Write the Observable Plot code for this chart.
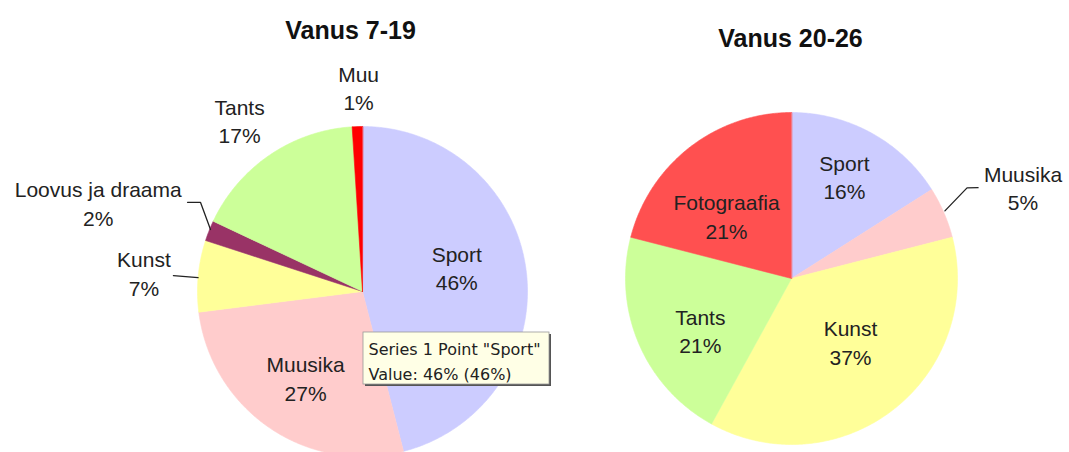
<!DOCTYPE html>
<html>
<head>
<meta charset="utf-8">
<script src="https://cdn.jsdelivr.net/npm/d3@7"></script>
<script src="https://cdn.jsdelivr.net/npm/@observablehq/plot@0.6"></script>
<style>
  html, body { margin: 0; padding: 0; background: #fff; }
  #chart svg { display: block; }
</style>
</head>
<body>
<div id="chart"></div>
<script>
// ---------------- DATA ----------------
const titles = ["Vanus 7-19", "Vanus 20-26"];
const categories719 = ["Sport", "Muusika", "Kunst", "Loovus ja draama", "Tants", "Muu"];
const values719 = [46, 27, 7, 2, 17, 1];
const categories2026 = ["Sport", "Muusika", "Kunst", "Tants", "Fotograafia"];
const values2026 = [16, 5, 37, 21, 21];
const tooltipSeries = "Series 1";
const tooltipCategory = "Sport";

// ---------------- STYLES ----------------
const colorDomain = ["Sport", "Muusika", "Kunst", "Loovus ja draama", "Tants", "Muu", "Fotograafia"];
const colorRange = ["#ccccff", "#ffcccc", "#ffff99", "#993366", "#ccff99", "#ff0000", "#ff5050"];
const labelFont = "'Liberation Sans', Arial, sans-serif";
const tipFont = "'DejaVu Sans', Verdana, sans-serif";

// ---------------- LAYOUT ----------------
const W = 1069, H = 452;
// label positions: [angle in degrees clockwise from 12 o'clock, distance as fraction of radius]
const layout = [
  {
    cx: 362, cy: 291, r: 165, titleX: 350, titleY: 30,
    labels: {
      "Sport": [75.5, 0.59], "Muusika": [213.5, 0.625], "Kunst": [275, 1.33],
      "Loovus ja draama": [288.6, 1.69], "Tants": [324.4, 1.28], "Muu": [358.9, 1.24]
    },
    leaders: {
      "Kunst": [[274.8, 1.0], [274.8, 1.15]],
      "Loovus ja draama": [[292.2, 0.995], [298.8, 1.12], [297.0, 1.19]]
    }
  },
  {
    cx: 791, cy: 278, r: 166, titleX: 790, titleY: 38,
    labels: {
      "Sport": [27.3, 0.695], "Muusika": [68.4, 1.5], "Kunst": [136.9, 0.52],
      "Tants": [240.7, 0.63], "Fotograafia": [314.1, 0.545]
    },
    leaders: {
      "Muusika": [[66.2, 1.01], [62.7, 1.19], [64.05, 1.25]]
    }
  }
];
// tooltip box relative to the first pie's centre
const tipLayout = {dx1: 1, dx2: 187, dy1: 41, dy2: 93, textDx: 6, textDy: 68.4, shadow: 2};

// ---------------- BUILD ----------------
const groups = [
  {title: titles[0], cats: categories719, vals: values719},
  {title: titles[1], cats: categories2026, vals: values2026}
];

const polys = [], labels = [], leaders = [], titleData = [];
let tipText = null;
groups.forEach((g, gi) => {
  const L = layout[gi];
  const total = d3.sum(g.vals);
  const arcs = d3.pie().sort(null)(g.vals);
  const pt = (ang, f) => ({x: L.cx + L.r * f * Math.sin(ang), y: L.cy - L.r * f * Math.cos(ang)});
  titleData.push({x: L.titleX, y: L.titleY, text: g.title});
  arcs.forEach((a, i) => {
    const id = gi + ":" + i;
    const key = g.cats[i];
    polys.push({...pt(0, 0), id, key});
    const n = Math.max(2, Math.ceil((a.endAngle - a.startAngle) / (Math.PI / 360)));
    for (let k = 0; k <= n; k++) {
      const ang = a.startAngle + (a.endAngle - a.startAngle) * k / n;
      polys.push({...pt(ang, 1), id, key});
    }
    const pct = Math.round(g.vals[i] / total * 100) + "%";
    const [deg, f] = L.labels[key];
    labels.push({...pt(deg * Math.PI / 180, f), text: key + "\n" + pct});
    if (L.leaders[key]) {
      L.leaders[key].forEach(([d, ff]) => leaders.push({...pt(d * Math.PI / 180, ff), id}));
    }
    if (gi === 0 && key === tooltipCategory) {
      tipText = `${tooltipSeries} Point "${key}"\nValue: ${pct} (${pct})`;
    }
  });
});

const L0 = layout[0];
const tipBox = [{x1: L0.cx + tipLayout.dx1, x2: L0.cx + tipLayout.dx2, y1: L0.cy + tipLayout.dy1, y2: L0.cy + tipLayout.dy2}];
const tipShadow = tipBox.map(b => ({x1: b.x1 + tipLayout.shadow, x2: b.x2 + tipLayout.shadow, y1: b.y1 + tipLayout.shadow, y2: b.y2 + tipLayout.shadow}));
const tipLabel = [{x: L0.cx + tipLayout.textDx, y: L0.cy + tipLayout.textDy, text: tipText}];

const chart = Plot.plot({
  width: W,
  height: H,
  margin: 0,
  x: {domain: [0, W], range: [0, W], axis: null},
  y: {domain: [0, H], range: [0, H], axis: null},
  color: {domain: colorDomain, range: colorRange},
  style: {background: "#fff", overflow: "hidden"},
  marks: [
    Plot.line(polys, {x: "x", y: "y", z: "id", fill: "key", stroke: "key", strokeWidth: 0.6, curve: "linear-closed"}),
    Plot.line(leaders, {x: "x", y: "y", z: "id", stroke: "#222", strokeWidth: 1.3, curve: "linear"}),
    Plot.text(labels, {x: "x", y: "y", text: "text", fontSize: 21, lineHeight: 1.357, fontFamily: labelFont, fill: "#222", lineAnchor: "middle"}),
    Plot.text(titleData, {x: "x", y: "y", text: "text", fontSize: 25, fontWeight: "bold", fontFamily: labelFont, fill: "#111"}),
    Plot.rect(tipShadow, {x1: "x1", x2: "x2", y1: "y1", y2: "y2", fill: "#555"}),
    Plot.rect(tipBox, {x1: "x1", x2: "x2", y1: "y1", y2: "y2", fill: "#ffffe6", stroke: "#999", strokeWidth: 0.8}),
    Plot.text(tipLabel, {x: "x", y: "y", text: "text", textAnchor: "start", lineAnchor: "middle", fontSize: 16, lineHeight: 1.5625, fontFamily: tipFont, fill: "#222"})
  ]
});
document.getElementById("chart").appendChild(chart);
</script>
</body>
</html>
